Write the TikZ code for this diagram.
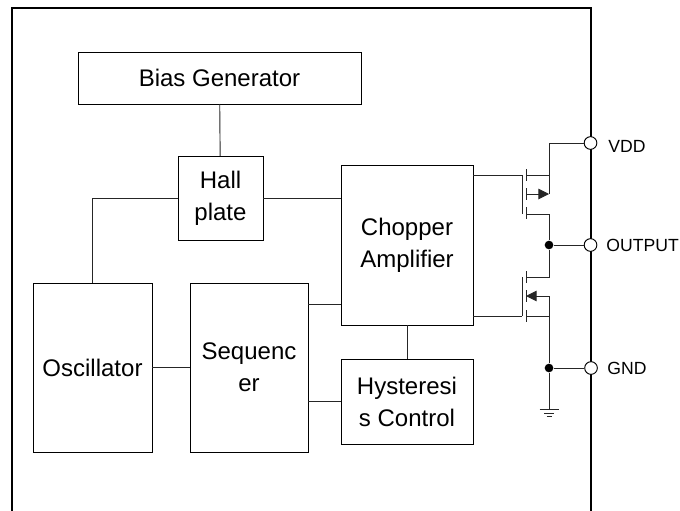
\documentclass[tikz,border=0pt]{standalone}
\usepackage{fontspec}
\setmainfont{Liberation Sans}
\usetikzlibrary{arrows.meta,calc}
\tikzset{
  blockbox/.style 2 args={draw, inner sep=0pt, outer sep=0pt, align=center, font=\fontsize{18}{24}\selectfont,
    minimum width=#1*0.75pt, minimum height=#2*0.75pt},
  pinnode/.style={draw, circle, fill=white, inner sep=0pt, minimum size=9.5pt},
  dotnode/.style={fill=black, circle, inner sep=0pt, minimum size=6.5pt},
  pinlabel/.style={anchor=west, inner sep=0pt, font=\fontsize{13.2}{15}\selectfont},
  wire/.style={line width=0.7pt, black!85}
}

\begin{document}
\begin{tikzpicture}[x=0.75pt, y=-0.75pt, every path/.style={line width=0.7pt}]
\useasboundingbox (0,0) rectangle (680,510);
% package outline
\draw[line width=1.5pt] (590.5,8) -- (12,8) -- (12,511.5) -- (590.5,511.5) -- cycle;

% blocks
\node[blockbox={283}{52}] (bias) at (219.5,78) {Bias Generator};
\node[blockbox={85}{84}] (hall) at (220.5,198) {Hall\\plate};
\node[blockbox={132}{160}] (chopper) at (407,245) {Chopper\\Amplifier};
\node[blockbox={119}{169}] (osc) at (92.5,367.5) {Oscillator};
\node[blockbox={118}{169}] (seq) at (249,367.5) {Sequenc\\er};
\node[blockbox={132}{85}] (hyst) at (407,401.5) {Hysteresi\\s Control};

% block connections
\draw[wire] (bias) -- (hall);
\draw[wire] (hall.east) -- (chopper.west |- hall.east);
\draw[wire] (hall.west) -| (osc.north);
\draw[wire] (osc.east) -- (seq.west);
\draw[wire] (seq.east |- 0,304) -- (chopper.west |- 0,304);
\draw[wire] (seq.east |- hyst.west) -- (hyst.west);
\draw[wire] (chopper.south) -- (hyst.north);

% pins
\node[dotnode] (outdot) at (549,245) {};
\node[dotnode] (gnddot) at (549,368) {};
\coordinate (vddcorner) at (549,143);
\coordinate (uppergate) at (522,175);
\coordinate (lowergate) at (522,316);
\coordinate (uppersrc) at (549,175);
\coordinate (uppermid) at (549,194);
\coordinate (upperdrn) at (549,214);
\coordinate (lowerdrn) at (549,277);
\coordinate (lowermid) at (549,296);
\coordinate (lowersrc) at (549,316);
\coordinate (gndend) at (549,409);
\node[pinnode] (vdd) at (590.5,143) {};
\node[pinnode] (output) at (590.5,245) {};
\node[pinnode] (gnd) at (591,368) {};
\node[pinlabel] (vddlabel) at (608,146) {VDD};
\node[pinlabel] (outputlabel) at (606,245.5) {OUTPUT};
\node[pinlabel] (gndlabel) at (607,368.5) {GND};

% upper transistor
\draw[wire] (chopper.east |- uppergate) -- (uppergate);
\draw[wire] (522,175) -- (522,214);
\draw[wire] (526,169) -- (526,181) (526,188) -- (526,200) (526,207) -- (526,219);
\draw[wire] (526,175) -- (uppersrc) -- (vddcorner) -- (vdd);
\draw[wire] (uppersrc) -- (uppermid);
\draw[wire,-{Triangle[length=8pt,width=8pt]}] (526,194) -- (uppermid);
\draw[wire] (526,214) -- (upperdrn) -- (outdot);
\draw[wire] (outdot) -- (output);

% lower transistor
\draw[wire] (outdot) -- (lowerdrn) -- (526,277);
\draw[wire] (chopper.east |- lowergate) -- (lowergate);
\draw[wire] (522,277) -- (522,316);
\draw[wire] (526,271) -- (526,283) (526,290) -- (526,302) (526,310) -- (526,322);
\draw[wire,-{Triangle[length=8pt,width=8pt]}] (lowermid) -- (526,296);
\draw[wire] (526,316) -- (lowersrc);
\draw[wire] (lowermid) -- (gnddot);
\draw[wire] (gnddot) -- (gnd);
\draw[wire] (gnddot) -- (gndend);

% ground
\draw[wire] (539.5,409) -- (558.5,409) (544,413) -- (554,413) (546.5,416.5) -- (551.5,416.5);
\end{tikzpicture}
\end{document}
